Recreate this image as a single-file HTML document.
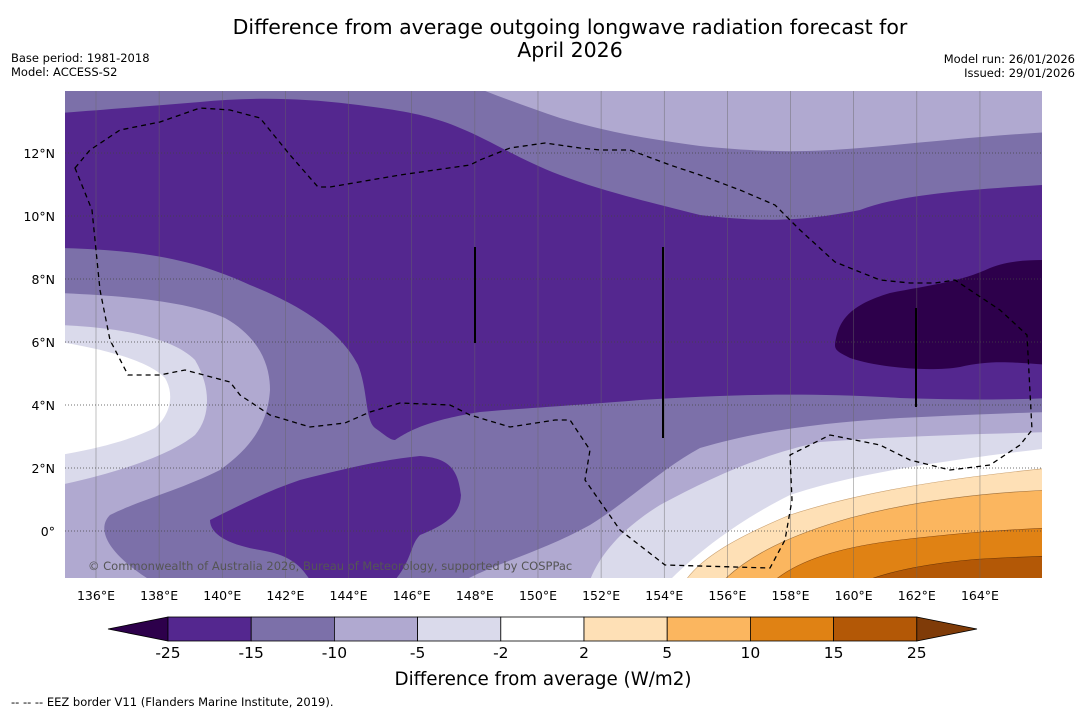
<!DOCTYPE html>
<html><head><meta charset="utf-8"><style>
body{margin:0;background:#fff;font-family:"DejaVu Sans",sans-serif}
svg{display:block}
</style></head><body>
<svg width="1085" height="713" viewBox="0 0 1085 713" xmlns="http://www.w3.org/2000/svg" font-family="DejaVu Sans, Liberation Sans, sans-serif">
<text x="570" y="34" font-size="20.5" text-anchor="middle">Difference from average outgoing longwave radiation forecast for</text>
<text x="570" y="57" font-size="20.5" text-anchor="middle">April 2026</text>
<text x="11" y="62" font-size="11.5">Base period: 1981-2018</text>
<text x="11" y="76" font-size="11.5">Model: ACCESS-S2</text>
<text x="1075" y="63" font-size="11.5" text-anchor="end">Model run: 26/01/2026</text>
<text x="1075" y="77" font-size="11.5" text-anchor="end">Issued: 29/01/2026</text>
<defs><clipPath id="mc"><rect x="65" y="91" width="977" height="487"/></clipPath></defs>
<g clip-path="url(#mc)">
<rect x="65" y="91" width="977" height="487" fill="#54278f"/>
<path fill="#7c70a9" d="M60,85 L1050,85 L1050,185 L1042,185 C960,190 900,195 860,210 C800,222 760,222 700,215 C640,200 600,190 560,175 C520,160 490,140 460,128 C430,115 400,110 350,104 C300,98 250,97 200,102 C150,106 100,110 60,113 Z"/>
<path fill="#b0a9d0" d="M470,85 L1050,85 L1050,132 C980,136 920,143 860,148 C800,153 760,152 700,146 C640,138 600,130 560,118 C530,108 500,97 470,85 Z"/>
<path fill="#2d004b" d="M835,345 C838,320 850,305 890,293 C930,285 960,282 990,268 C1010,260 1030,260 1050,260 L1050,365 C1010,362 990,360 960,367 C930,372 880,368 850,358 C838,352 835,350 835,345 Z"/>
<path fill="#7c70a9" d="M60,248 C150,250 200,262 250,285 C300,305 340,330 358,365 C368,390 365,420 375,428 C385,435 390,440 395,440 C410,430 430,420 480,412 C540,407 580,405 640,400 C720,395 800,392 900,398 C960,400 1010,400 1050,398 L1050,590 L60,590 Z"/>
<path fill="#54278f" d="M210,520 C240,505 270,490 300,480 C340,470 380,460 420,456 C450,458 458,470 461,495 C460,515 445,525 420,535 C410,545 412,560 395,580 L310,580 C300,565 290,555 260,550 C230,545 210,535 210,520 Z"/>
<path fill="#b0a9d0" d="M60,293 C130,296 190,302 225,318 C255,335 270,360 270,390 C268,420 255,445 220,470 C180,490 140,500 110,515 C95,530 110,555 150,580 L60,580 Z"/>
<path fill="#b0a9d0" d="M465,580 C500,562 545,550 590,525 C630,500 660,470 700,448 C760,430 830,422 900,418 C960,415 1010,413 1050,412 L1050,580 Z"/>
<path fill="#dadaeb" d="M60,325 C130,328 175,340 195,360 C210,385 212,415 195,435 C170,455 120,472 60,485 Z"/>
<path fill="#fff" d="M60,342 C110,350 150,362 165,378 C175,395 170,415 155,428 C130,440 100,448 60,455 Z"/>
<path fill="#dadaeb" d="M590,580 C600,555 620,530 660,505 C710,478 760,455 820,442 C900,436 980,434 1050,432 L1050,580 Z"/>
<path fill="#fff" d="M670,580 C700,550 740,520 790,495 C850,475 930,462 1050,448 L1050,580 Z"/>
<path fill="#fee0b6" stroke="#c9a070" stroke-width="0.6" d="M686,580 C700,560 730,540 790,515 C860,492 950,478 1050,468 L1050,580 Z"/>
<path fill="#fbb65f" stroke="#a0703a" stroke-width="0.6" d="M724,580 C750,555 790,535 850,518 C910,502 980,493 1050,490 L1050,580 Z"/>
<path fill="#e08214" stroke="#8a4a10" stroke-width="0.6" d="M775,580 C800,560 840,547 900,540 C960,533 1000,530 1050,528 L1050,580 Z"/>
<path fill="#b35806" stroke="#6a3406" stroke-width="0.6" d="M868,580 C900,568 950,560 1000,558 L1050,556 L1050,580 Z"/>
<g id="grid"></g>
<line x1="475" y1="247" x2="475" y2="343" stroke="#000" stroke-width="2"/>
<line x1="663" y1="247" x2="663" y2="438" stroke="#000" stroke-width="2"/>
<line x1="916" y1="308" x2="916" y2="407" stroke="#000" stroke-width="2"/>
<path fill="none" stroke="#000" stroke-width="1.3" stroke-dasharray="5,4" d="M75,168 L90,150 L120,130 L160,122 L200,108 L230,110 L260,118 L290,155 L318,187 L330,187 L400,175 L470,165 L480,160 L510,148 L545,143 L580,148 L600,150 L630,150 L670,165 L700,175 L740,190 L775,205 L800,230 L835,262 L880,280 L910,283 L935,283 L955,280 L1000,310 L1027,335 L1032,430 L1020,445 L990,465 L950,470 L910,460 L880,445 L830,435 L790,455 L792,500 L785,540 L770,568 L665,565 L620,530 L585,480 L590,450 L570,420 L555,420 L510,427 L470,415 L450,405 L400,403 L370,412 L345,423 L310,427 L270,415 L240,395 L230,382 L185,370 L160,375 L128,375 L110,340 L100,290 L92,210 Z"/>
<text x="88" y="570" font-size="11.5" fill="#555">© Commonwealth of Australia 2026, Bureau of Meteorology, supported by COSPPac</text>
</g>
<g id="xt"></g>
<g id="yt"></g>
<g id="cb"></g>
<text x="543" y="685" font-size="18.3" text-anchor="middle">Difference from average (W/m2)</text>
<text x="11" y="706" font-size="11.5">--  --  -- EEZ border V11 (Flanders Marine Institute, 2019).</text>
</svg>
<script>
const lonTicks=[136,138,140,142,144,146,148,150,152,154,156,158,160,162,164];
const latTicks=[0,2,4,6,8,10,12];
const levels=["-25","-15","-10","-5","-2","2","5","10","15","25"];
const levelColors=["#54278f","#7c70a9","#b0a9d0","#dadaeb","#ffffff","#fee0b6","#fbb65f","#e08214","#b35806"];
const NS="http://www.w3.org/2000/svg";
const xs=lon=>96+(lon-136)*31.57, ys=lat=>531-lat*31.5;
function mk(t,a,p){const e=document.createElementNS(NS,t);for(const k in a)e.setAttribute(k,a[k]);p.appendChild(e);return e;}
const grid=document.getElementById('grid'),xt=document.getElementById('xt'),yt=document.getElementById('yt'),cb=document.getElementById('cb');
lonTicks.forEach(l=>{
 const g=mk('line',{x1:xs(l),x2:xs(l),y1:91,y2:578,stroke:'#666','stroke-width':0.6,'stroke-opacity':0.7},grid);
 
 
 const t=mk('text',{x:xs(l),y:600,'font-size':12.5,'text-anchor':'middle'},xt);t.textContent=l+'°E';
 
 
});
latTicks.forEach(l=>{
 const g=mk('line',{x1:65,x2:1042,y1:ys(l),y2:ys(l),stroke:'#444','stroke-width':0.7,'stroke-dasharray':'1,2'},grid);
 
 
 const t=mk('text',{x:55,y:ys(l)+5,'font-size':12.5,'text-anchor':'end'},yt);t.textContent=l===0?'0°':l+'°N';
 
 
});
const x0=168,w=83.2,yb=617,hb=24;
const lo=mk('polygon',{points:`108,${yb+hb/2} ${x0},${yb} ${x0},${yb+hb}`,fill:'#2d004b',stroke:'#000','stroke-width':0.8},cb);


levelColors.forEach((c,i)=>{
 const r=mk('rect',{x:x0+i*w,y:yb,width:w,height:hb,fill:c,stroke:'#000','stroke-width':0.8},cb);
 
 
});
const xe=x0+levelColors.length*w;
const hi=mk('polygon',{points:`${xe},${yb} 977,${yb+hb/2} ${xe},${yb+hb}`,fill:'#7f3b08',stroke:'#000','stroke-width':0.8},cb);


levels.forEach((v,i)=>{
 const t=mk('text',{x:x0+i*w,y:658,'font-size':15.5,'text-anchor':'middle'},cb);t.textContent=v;
 
 
});
</script>
</body></html>
